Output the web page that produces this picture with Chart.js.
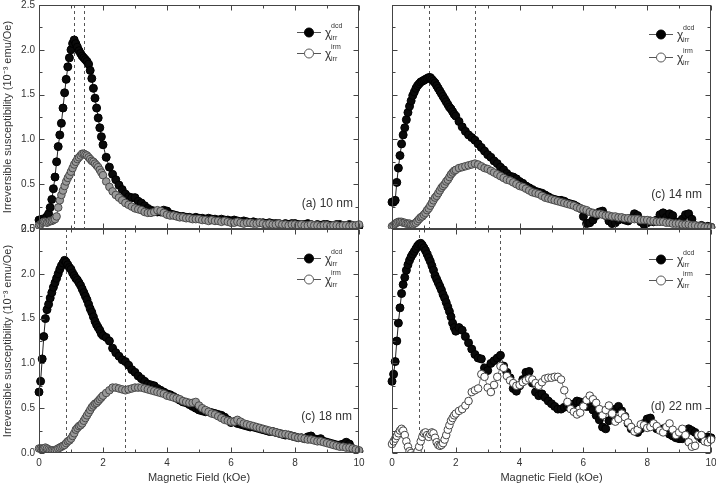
<!DOCTYPE html>
<html><head><meta charset="utf-8">
<script src="https://cdn.jsdelivr.net/npm/chart.js@4.4.0/dist/chart.umd.min.js"></script>
<style>
html,body{margin:0;padding:0;background:#fff;}
#wrap{position:relative;width:716px;height:490px;overflow:hidden;background:#fff;}
#wrap canvas{position:absolute;left:0;top:0;}
</style></head><body>
<div id="wrap">
<canvas id="c0" width="716" height="490"></canvas>
<canvas id="c1" width="716" height="490"></canvas>
<canvas id="c2" width="716" height="490"></canvas>
<canvas id="c3" width="716" height="490"></canvas>
</div>
<script>
// Magnetic field (kOe) sampling
const H = [
0,0.05,0.1,0.15,0.2,0.25,0.3,0.35,0.4,0.45,
0.5,0.55,0.6,0.65,0.7,0.75,0.8,0.85,0.9,0.95,
1.0,1.05,1.1,1.15,1.2,1.25,1.3,1.35,1.4,1.45,
1.5,1.55,1.6,1.65,1.7,1.75,1.8,1.85,1.9,1.95,
2.0,2.1,2.2,2.3,2.4,2.5,2.6,2.7,2.8,2.9,
3.0,3.1,3.2,3.3,3.4,3.5,3.6,3.7,3.8,3.9,
4.0,4.1,4.2,4.3,4.4,4.5,4.6,4.7,4.8,4.9,
5.0,5.1,5.2,5.3,5.4,5.5,5.6,5.7,5.8,5.9,
6.0,6.1,6.2,6.3,6.4,6.5,6.6,6.7,6.8,6.9,
7.0,7.1,7.2,7.3,7.4,7.5,7.6,7.7,7.8,7.9,
8.0,8.1,8.2,8.3,8.4,8.5,8.6,8.7,8.8,8.9,
9.0,9.1,9.2,9.3,9.4,9.5,9.6,9.7,9.8,9.9,
10.0];

// (a) 10 nm
const dcd10 = [
0.10,0.10,0.11,0.11,0.12,0.14,0.17,0.24,0.33,0.45,
0.58,0.75,0.92,1.05,1.18,1.35,1.52,1.67,1.81,1.91,
2.00,2.07,2.11,2.07,2.03,1.99,1.96,1.93,1.91,1.89,
1.87,1.84,1.77,1.68,1.57,1.46,1.35,1.24,1.13,1.03,
0.94,0.80,0.69,0.61,0.55,0.49,0.44,0.39,0.36,0.35,
0.35,0.31,0.29,0.26,0.23,0.21,0.20,0.19,0.19,0.21,
0.20,0.17,0.16,0.15,0.14,0.14,0.13,0.13,0.12,0.13,
0.12,0.12,0.11,0.12,0.11,0.11,0.10,0.11,0.10,0.10,
0.09,0.10,0.09,0.08,0.09,0.08,0.07,0.08,0.07,0.07,
0.07,0.06,0.07,0.06,0.06,0.06,0.05,0.06,0.05,0.06,
0.06,0.05,0.05,0.05,0.06,0.05,0.04,0.05,0.04,0.05,
0.05,0.04,0.04,0.05,0.05,0.04,0.04,0.05,0.04,0.03,
0.03];
const irm10 = [
0.04,0.05,0.07,0.08,0.08,0.07,0.08,0.09,0.09,0.10,
0.11,0.14,0.24,0.32,0.38,0.43,0.48,0.53,0.57,0.60,
0.64,0.68,0.72,0.75,0.78,0.80,0.82,0.84,0.84,0.83,
0.82,0.80,0.78,0.76,0.75,0.73,0.71,0.69,0.66,0.63,
0.60,0.53,0.47,0.42,0.38,0.35,0.32,0.29,0.27,0.25,
0.23,0.22,0.21,0.19,0.18,0.18,0.19,0.21,0.20,0.18,
0.16,0.15,0.15,0.14,0.13,0.13,0.12,0.12,0.11,0.11,
0.11,0.10,0.10,0.09,0.10,0.09,0.09,0.08,0.09,0.08,
0.07,0.07,0.08,0.07,0.06,0.07,0.07,0.06,0.06,0.07,
0.06,0.05,0.06,0.05,0.05,0.06,0.05,0.05,0.04,0.05,
0.05,0.04,0.05,0.04,0.04,0.05,0.04,0.04,0.03,0.04,
0.04,0.03,0.04,0.04,0.03,0.04,0.04,0.03,0.04,0.04,
0.05];

// (c) 14 nm
const dcd14 = [
0.30,0.30,0.32,0.52,0.68,0.82,0.95,1.05,1.13,1.22,
1.30,1.37,1.43,1.49,1.53,1.57,1.60,1.62,1.64,1.65,
1.66,1.67,1.68,1.69,1.69,1.67,1.65,1.63,1.60,1.57,
1.54,1.51,1.48,1.45,1.42,1.39,1.36,1.34,1.31,1.28,
1.26,1.20,1.14,1.09,1.05,1.02,0.99,0.95,0.91,0.87,
0.83,0.80,0.76,0.73,0.69,0.66,0.62,0.59,0.58,0.56,
0.53,0.51,0.48,0.46,0.44,0.42,0.41,0.40,0.38,0.36,
0.34,0.33,0.32,0.32,0.31,0.29,0.28,0.27,0.25,0.23,
0.14,0.06,0.07,0.10,0.15,0.19,0.20,0.15,0.09,0.06,
0.07,0.10,0.12,0.10,0.09,0.12,0.17,0.15,0.08,0.05,
0.07,0.09,0.08,0.10,0.16,0.18,0.13,0.17,0.15,0.08,
0.07,0.11,0.16,0.17,0.11,0.04,0.03,0.04,0.02,0.03,
0.02];
const irm14 = [
0.03,0.04,0.06,0.07,0.08,0.08,0.08,0.07,0.07,0.06,
0.06,0.06,0.05,0.05,0.06,0.07,0.09,0.11,0.13,0.14,
0.16,0.18,0.21,0.23,0.26,0.29,0.32,0.35,0.37,0.40,
0.43,0.46,0.48,0.50,0.53,0.55,0.58,0.61,0.63,0.65,
0.66,0.68,0.69,0.70,0.71,0.72,0.73,0.72,0.70,0.68,
0.67,0.65,0.63,0.61,0.59,0.57,0.55,0.54,0.52,0.50,
0.48,0.47,0.45,0.43,0.41,0.40,0.39,0.37,0.35,0.34,
0.33,0.32,0.31,0.30,0.29,0.28,0.27,0.26,0.24,0.23,
0.22,0.21,0.19,0.18,0.17,0.17,0.16,0.15,0.15,0.14,
0.14,0.13,0.13,0.12,0.12,0.11,0.11,0.11,0.10,0.10,
0.10,0.09,0.09,0.08,0.08,0.08,0.07,0.07,0.06,0.06,
0.06,0.05,0.05,0.05,0.04,0.04,0.03,0.03,0.02,0.02,
0.02];

// (c) 18 nm
const dcd18 = [
0.68,0.80,1.05,1.30,1.50,1.60,1.66,1.73,1.79,1.85,
1.90,1.95,2.00,2.05,2.09,2.12,2.15,2.13,2.10,2.07,
2.05,2.01,1.98,1.95,1.93,1.90,1.87,1.83,1.79,1.75,
1.71,1.66,1.61,1.57,1.52,1.47,1.43,1.40,1.37,1.33,
1.31,1.29,1.25,1.17,1.12,1.08,1.04,1.02,0.98,0.93,
0.90,0.86,0.83,0.80,0.77,0.76,0.75,0.72,0.70,0.68,
0.66,0.65,0.63,0.61,0.59,0.57,0.56,0.54,0.52,0.50,
0.48,0.47,0.46,0.46,0.45,0.44,0.43,0.42,0.40,0.37,
0.34,0.35,0.33,0.32,0.31,0.30,0.29,0.29,0.28,0.27,
0.26,0.25,0.24,0.24,0.23,0.22,0.21,0.20,0.20,0.19,
0.18,0.17,0.17,0.16,0.18,0.19,0.16,0.15,0.16,0.13,
0.12,0.11,0.10,0.09,0.09,0.10,0.12,0.10,0.05,0.03,
0.02];
const irm18 = [
0.05,0.05,0.05,0.05,0.06,0.05,0.04,0.03,0.03,0.03,
0.03,0.04,0.05,0.06,0.07,0.08,0.09,0.11,0.13,0.14,
0.16,0.19,0.22,0.26,0.28,0.30,0.31,0.33,0.36,0.39,
0.42,0.45,0.48,0.51,0.53,0.55,0.56,0.58,0.60,0.62,
0.64,0.67,0.70,0.73,0.73,0.72,0.71,0.70,0.71,0.72,
0.73,0.73,0.73,0.72,0.71,0.70,0.69,0.68,0.67,0.66,
0.64,0.63,0.62,0.61,0.60,0.58,0.57,0.56,0.56,0.57,
0.53,0.50,0.48,0.46,0.44,0.43,0.41,0.39,0.37,0.36,
0.35,0.35,0.37,0.35,0.33,0.32,0.31,0.30,0.29,0.28,
0.27,0.26,0.25,0.24,0.23,0.22,0.21,0.21,0.20,0.19,
0.18,0.17,0.17,0.16,0.15,0.15,0.14,0.13,0.13,0.12,
0.11,0.10,0.09,0.08,0.07,0.07,0.06,0.06,0.05,0.04,
0.03];

// (d) 22 nm
const dcd22 = [
0.80,0.88,1.02,1.25,1.45,1.62,1.78,1.88,1.96,2.04,
2.10,2.15,2.19,2.22,2.25,2.28,2.31,2.33,2.34,2.32,
2.29,2.26,2.22,2.18,2.14,2.09,2.04,1.98,1.94,1.90,
1.86,1.82,1.77,1.73,1.68,1.63,1.58,1.52,1.45,1.40,
1.36,1.40,1.37,1.30,1.23,1.16,1.10,1.06,1.05,0.95,
0.92,1.00,1.03,1.06,1.09,0.97,0.90,0.84,0.72,0.69,
0.75,0.82,0.90,0.91,0.78,0.68,0.64,0.66,0.62,0.58,
0.55,0.52,0.49,0.49,0.51,0.52,0.52,0.55,0.58,0.57,
0.55,0.52,0.52,0.48,0.42,0.37,0.29,0.27,0.36,0.43,
0.49,0.52,0.47,0.41,0.33,0.27,0.25,0.23,0.27,0.33,
0.38,0.39,0.32,0.27,0.26,0.27,0.24,0.21,0.19,0.17,
0.16,0.16,0.21,0.27,0.25,0.23,0.19,0.16,0.17,0.18,
0.17];
const irm22 = [
0.10,0.13,0.16,0.19,0.22,0.25,0.27,0.25,0.20,0.13,
0.07,0.02,0.00,-0.03,-0.04,-0.02,0.02,0.07,0.13,0.18,
0.22,0.23,0.20,0.18,0.21,0.23,0.22,0.17,0.12,0.09,
0.08,0.09,0.11,0.15,0.20,0.26,0.31,0.36,0.39,0.42,
0.44,0.47,0.49,0.53,0.58,0.68,0.70,0.72,0.88,0.85,
0.73,0.68,0.76,0.85,0.97,0.95,0.86,0.81,0.78,0.75,
0.76,0.79,0.81,0.83,0.82,0.78,0.75,0.79,0.83,0.84,
0.84,0.85,0.85,0.82,0.70,0.57,0.49,0.46,0.43,0.45,
0.52,0.59,0.64,0.60,0.56,0.49,0.42,0.48,0.53,0.44,
0.35,0.38,0.44,0.40,0.34,0.29,0.24,0.26,0.32,0.31,
0.28,0.29,0.33,0.30,0.25,0.23,0.29,0.33,0.26,0.20,
0.23,0.27,0.20,0.12,0.07,0.08,0.20,0.20,0.13,0.12,
0.15];

// panel annotations
const panelLabels = ['(a) 10 nm', '(c) 14 nm', '(c) 18 nm', '(d) 22 nm'];
const peakLines = [[1.09, 1.40], [1.16, 2.60], [0.83, 2.70], [0.85, 3.38]];
const xMajor = [0, 2, 4, 6, 8, 10];
const xMinor = [1, 3, 5, 7, 9];
const yMajor = [0, 0.5, 1.0, 1.5, 2.0, 2.5];
const yMinor = [0.25, 0.75, 1.25, 1.75, 2.25];

const FONT = "'Liberation Sans', Arial, Helvetica, sans-serif";
const INK = '#333';

function framePlugin(p) {
  return {
    id: 'frame' + p.idx,
    beforeDatasetsDraw(chart) {
      const {ctx, chartArea: a, scales: {x}} = chart;
      ctx.save();
      ctx.strokeStyle = '#555'; ctx.lineWidth = 1; ctx.setLineDash([3, 3]);
      p.dashes.forEach(v => {
        const px = Math.round(x.getPixelForValue(v)) + 0.5;
        ctx.beginPath(); ctx.moveTo(px, a.top); ctx.lineTo(px, a.bottom); ctx.stroke();
      });
      ctx.restore();
    },
    afterDatasetsDraw(chart) {
      const {ctx, chartArea: a, scales: {x, y}} = chart;
      ctx.save();
      ctx.strokeStyle = '#444'; ctx.lineWidth = 1;
      const L = Math.round(a.left) + 0.5, R = Math.round(a.right) - 0.5;
      const T = Math.round(a.top) + 0.5, B = Math.round(a.bottom) - 0.5;
      ctx.strokeRect(L, T, R - L, B - T);
      ctx.beginPath();
      const xt = (v, len) => { const px = Math.round(x.getPixelForValue(v)) + 0.5;
        ctx.moveTo(px, B); ctx.lineTo(px, B - len); ctx.moveTo(px, T); ctx.lineTo(px, T + len); };
      const yt = (v, len) => { const py = Math.round(y.getPixelForValue(v)) + 0.5;
        ctx.moveTo(L, py); ctx.lineTo(L + len, py); ctx.moveTo(R, py); ctx.lineTo(R - len, py); };
      xMajor.forEach(v => xt(v, 5)); xMinor.forEach(v => xt(v, 3));
      yMajor.forEach(v => yt(v, 5)); yMinor.forEach(v => yt(v, 3));
      ctx.stroke();

      // legend
      const lx = a.right - 50;
      [[p.leg[0], true, 'dcd'], [p.leg[1], false, 'irm']].forEach(([dy, filled, sup]) => {
        const ly = a.top + dy;
        ctx.strokeStyle = '#555'; ctx.lineWidth = 1;
        ctx.beginPath(); ctx.moveTo(lx - 12, ly + 0.5); ctx.lineTo(lx + 12, ly + 0.5); ctx.stroke();
        ctx.beginPath(); ctx.arc(lx, ly + 0.5, 4.5, 0, Math.PI * 2);
        ctx.fillStyle = filled ? '#000' : '#fff'; ctx.fill();
        ctx.strokeStyle = filled ? '#000' : '#555'; ctx.stroke();
        ctx.fillStyle = INK; ctx.textBaseline = 'middle'; ctx.textAlign = 'left';
        ctx.font = '12px ' + FONT; ctx.fillText('χ', lx + 16, ly + 2);
        ctx.font = '7px ' + FONT;
        ctx.fillText(sup, lx + 22, ly - 6);
        ctx.fillText('irr', lx + 22, ly + 6);
      });

      // panel label
      ctx.fillStyle = INK; ctx.font = '12px ' + FONT;
      ctx.textAlign = 'right'; ctx.textBaseline = 'middle';
      ctx.fillText(p.label, a.right - p.labDx, a.top + p.labDy);
      ctx.restore();
    }
  };
}

function zeroPad(s) { s.paddingTop = 0; s.paddingBottom = 0; s.paddingLeft = 0; s.paddingRight = 0; }

function makeChart(id, dcd, irm, p) {
  const clip = {left: 6, right: 6, top: 6, bottom: 0};
  return new Chart(document.getElementById(id), {
    type: 'scatter',
    data: {
      datasets: [
        {label: 'irm', order: 0, data: H.map((h, i) => ({x: h, y: irm[i]})),
         showLine: true, borderColor: p.irmLine, borderWidth: 1,
         pointRadius: 3.8, pointBackgroundColor: p.irmFill, pointBorderColor: p.irmEdge,
         pointBorderWidth: 1, clip},
        {label: 'dcd', order: 1, data: H.map((h, i) => ({x: h, y: dcd[i]})),
         showLine: true, borderColor: '#222', borderWidth: 1,
         pointRadius: 4, pointBackgroundColor: '#0a0a0a', pointBorderColor: '#000',
         pointBorderWidth: 1, clip}
      ]
    },
    options: {
      responsive: false, animation: false, events: [],
      layout: {padding: p.pad},
      plugins: {legend: {display: false}, tooltip: {enabled: false}},
      scales: {
        x: {
          type: 'linear', min: 0, max: 10, display: p.showX,
          grid: {display: false, drawTicks: false}, border: {display: false},
          ticks: {stepSize: 2, padding: 4, color: INK, maxRotation: 0, autoSkip: false,
                  font: {size: 10, family: FONT}},
          title: {display: true, text: 'Magnetic Field (kOe)', color: INK,
                  font: {size: 11, family: FONT}, padding: {top: 0, bottom: 5}},
          afterFit: s => { s.height = p.showX ? 37 : 0; zeroPad(s); }
        },
        y: {
          type: 'linear', min: 0, max: 2.5, display: p.showY,
          grid: {display: false, drawTicks: false}, border: {display: false},
          ticks: {stepSize: 0.5, padding: 4, color: INK, font: {size: 10, family: FONT},
                  callback: v => Number(v).toFixed(1)},
          title: {display: true, text: 'Irreversible susceptibility (10⁻³ emu/Oe)', color: INK,
                  font: {size: 11, family: FONT}, padding: {top: 1, bottom: 0}},
          afterFit: s => { s.width = p.showY ? 39 : 0; zeroPad(s); }
        }
      }
    },
    plugins: [framePlugin(p)]
  });
}

const greyIrm = {irmFill: '#9a9a9a', irmEdge: '#4a4a4a', irmLine: '#666'};
makeChart('c0', dcd10, irm10, Object.assign({idx: 0, label: panelLabels[0], dashes: peakLines[0],
  pad: {left: 0, top: 5, right: 357, bottom: 261}, showX: false, showY: true,
  leg: [27, 48], labDx: 6, labDy: 199}, greyIrm));
makeChart('c1', dcd14, irm14, Object.assign({idx: 1, label: panelLabels[1], dashes: peakLines[1],
  pad: {left: 392, top: 5, right: 4, bottom: 261}, showX: false, showY: false,
  leg: [29, 52], labDx: 9, labDy: 190}, greyIrm));
makeChart('c2', dcd18, irm18, Object.assign({idx: 2, label: panelLabels[2], dashes: peakLines[2],
  pad: {left: 0, top: 229, right: 357, bottom: 0}, showX: true, showY: true,
  leg: [29, 50], labDx: 7, labDy: 188}, greyIrm));
makeChart('c3', dcd22, irm22, {idx: 3, label: panelLabels[3], dashes: peakLines[3],
  pad: {left: 392, top: 229, right: 4, bottom: 0}, showX: true, showY: false,
  leg: [30, 51], labDx: 9, labDy: 178, irmFill: '#fff', irmEdge: '#444', irmLine: '#777'});
</script>
</body></html>
